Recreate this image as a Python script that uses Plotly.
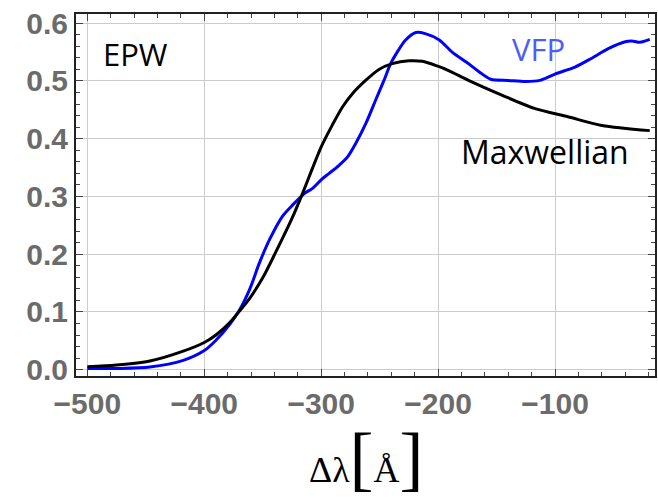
import plotly.graph_objects as go

# Maxwellian curve
max_x = [-500, -475, -446.5, -418, -400, -390, -378, -370.5, -361, -350, -339, -325, -316,
         -307.4, -299.7, -290.4, -281.8, -273.3, -262, -250.6, -239.2, -225, -213.6, -200.8,
         -191, -174, -145, -117, -89, -60, -19]
max_y = [0.005, 0.008, 0.015, 0.032, 0.047, 0.060, 0.082, 0.100, 0.124, 0.159, 0.203, 0.262,
         0.305, 0.349, 0.387, 0.424, 0.455, 0.478, 0.501, 0.520, 0.530, 0.535, 0.534, 0.526,
         0.518, 0.501, 0.475, 0.452, 0.438, 0.423, 0.414]

# VFP curve
vfp_x = [-500, -475, -446.5, -418, -400, -390, -378, -370.5, -361, -353, -344, -333, -324.5,
         -314.5, -307.4, -298.9, -293.2, -284.7, -277.6, -270.4, -261.9, -253.4, -246.3,
         -240.6, -235, -227.8, -219, -211, -199, -188, -174, -165, -155, -140, -125, -113,
         -100, -83, -69, -54.5, -40, -33, -27.5, -19]
vfp_y = [0.002, 0.002, 0.0045, 0.016, 0.033, 0.051, 0.079, 0.101, 0.140, 0.184, 0.226, 0.266,
         0.285, 0.305, 0.314, 0.331, 0.340, 0.354, 0.368, 0.392, 0.426, 0.467, 0.501, 0.530,
         0.550, 0.571, 0.584, 0.582, 0.571, 0.550, 0.530, 0.516, 0.503, 0.501, 0.499, 0.501,
         0.512, 0.524, 0.539, 0.556, 0.568, 0.569, 0.567, 0.572]

x_ticks = [-500, -400, -300, -200, -100]
x_tick_text = ["\u2212500", "\u2212400", "\u2212300", "\u2212200", "\u2212100"]
y_ticks = [0.0, 0.1, 0.2, 0.3, 0.4, 0.5, 0.6]
y_tick_text = ["0.0", "0.1", "0.2", "0.3", "0.4", "0.5", "0.6"]

fig = go.Figure()
fig.add_trace(go.Scatter(x=vfp_x, y=vfp_y, mode="lines",
                         line=dict(color="#0000ff", width=3, shape="spline", smoothing=0.8),
                         showlegend=False))
fig.add_trace(go.Scatter(x=max_x, y=max_y, mode="lines",
                         line=dict(color="#000000", width=3, shape="spline", smoothing=0.8),
                         showlegend=False))

tickfont = dict(family="Liberation Sans", size=30, color="#6b6b6b", weight="bold")

fig.update_layout(
    width=658, height=500,
    margin=dict(l=76, r=1, t=14, b=124),
    paper_bgcolor="white", plot_bgcolor="white",
    xaxis=dict(range=[-509.7, -14.5], tickvals=x_ticks, ticktext=x_tick_text,
               ticks="inside", ticklen=7, tickwidth=1, tickcolor="#444",
               showline=True, linecolor="#222", linewidth=2, mirror="ticks",
               showgrid=True, gridcolor="#cccccc", gridwidth=1, zeroline=False,
               tickfont=tickfont,
               minor=dict(dtick=20, ticks="inside", ticklen=4, tickcolor="#444", showgrid=False)),
    yaxis=dict(range=[-0.011, 0.616], tickvals=y_ticks, ticktext=y_tick_text,
               ticks="inside", ticklen=7, tickwidth=1, tickcolor="#444",
               showline=True, linecolor="#222", linewidth=2, mirror="ticks",
               showgrid=True, gridcolor="#cccccc", gridwidth=1, zeroline=False,
               tickfont=tickfont,
               minor=dict(dtick=0.02, ticks="inside", ticklen=4, tickcolor="#444", showgrid=False)),
    annotations=[
        dict(x=-458.6, y=0.546, xref="x", yref="y", text="EPW", showarrow=False,
             font=dict(family="Open Sans", size=31, color="black")),
        dict(x=-114, y=0.555, xref="x", yref="y", text="VFP", showarrow=False,
             font=dict(family="Open Sans", size=31, color="#4d5ef5")),
        dict(x=-109, y=0.378, xref="x", yref="y", text="Maxwellian", showarrow=False,
             font=dict(family="Open Sans", size=32, color="black")),
        dict(x=(368 - 76) / 581, y=-124 / 362, xref="paper", yref="paper",
             text="Δλ<span style='font-size:72px'>[</span>Å<span style='font-size:72px'>]</span>",
             showarrow=False, xanchor="center", yanchor="bottom",
             font=dict(family="Liberation Serif", size=36, color="black")),
    ],
)

fig.write_html("out.html")
